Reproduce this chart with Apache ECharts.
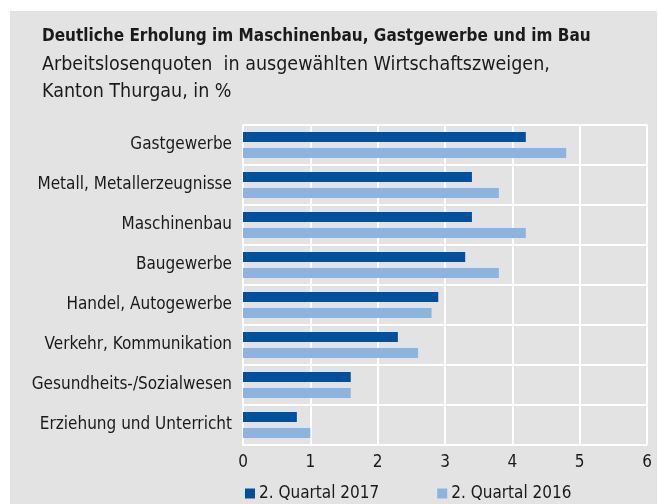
<!DOCTYPE html>
<html>
<head>
<meta charset="utf-8">
<script src="https://cdn.jsdelivr.net/npm/echarts@6/dist/echarts.min.js"></script>
<style>
  html, body { margin: 0; padding: 0; background: #fff; }
  #chart { width: 658px; height: 504px; }
</style>
</head>
<body>
<div id="chart"></div>
<script>
  // Branchen (von oben nach unten)
  const categories = [
    'Gastgewerbe',
    'Metall, Metallerzeugnisse',
    'Maschinenbau',
    'Baugewerbe',
    'Handel, Autogewerbe',
    'Verkehr, Kommunikation',
    'Gesundheits-/Sozialwesen',
    'Erziehung und Unterricht'
  ];
  const q2017 = [4.2, 3.4, 3.4, 3.3, 2.9, 2.3, 1.6, 0.8];
  const q2016 = [4.8, 3.8, 4.2, 3.8, 2.8, 2.6, 1.6, 1.0];
  const seriesNames = ['2. Quartal 2017', '2. Quartal 2016'];
  const xTicks = [0, 1, 2, 3, 4, 5, 6];

  const font = '"Liberation Sans Narrow", "DejaVu Sans Condensed", sans-serif';
  const textColor = '#1a1a1a';

  const chart = echarts.init(document.getElementById('chart'));
  chart.setOption({
    backgroundColor: '#fff',
    textStyle: { fontFamily: font },
    graphic: [
      {
        type: 'rect',
        z: -10,
        shape: { x: 10, y: 11, width: 647, height: 493 },
        style: { fill: '#e3e3e3' }
      },
      {
        type: 'text',
        left: 42, top: 28,
        style: {
          text: 'Deutliche Erholung im Maschinenbau, Gastgewerbe und im Bau',
          font: 'bold 17px ' + font,
          fill: textColor
        }
      },
      {
        type: 'text',
        left: 42, top: 51,
        style: {
          text: 'Arbeitslosenquoten  in ausgewählten Wirtschaftszweigen,\nKanton Thurgau, in %',
          font: '19.5px ' + font,
          lineHeight: 27,
          fill: textColor
        }
      }
    ],
    legend: {
      left: 240,
      top: 480,
      itemWidth: 10,
      itemHeight: 10,
      itemGap: 58,
      icon: 'rect',
      textStyle: { fontSize: 17, color: textColor, fontFamily: font, padding: [0, 0, 0, -1] },
      data: seriesNames
    },
    grid: { left: 243, right: 11, top: 125, bottom: 59, containLabel: false },
    xAxis: {
      type: 'value',
      min: xTicks[0],
      max: xTicks[xTicks.length - 1],
      interval: 1,
      axisLine: { show: false },
      axisTick: { show: false },
      axisLabel: { fontSize: 17, color: textColor, margin: 9, fontFamily: font },
      splitLine: { show: true, lineStyle: { color: '#fff', width: 2 } }
    },
    yAxis: {
      type: 'category',
      inverse: true,
      data: categories,
      axisLine: { show: true, lineStyle: { color: '#fff', width: 2 } },
      axisTick: { show: false },
      axisLabel: { fontSize: 17, color: textColor, margin: 11, fontFamily: font, padding: [0, 0, 10, 0] },
      splitLine: { show: true, lineStyle: { color: '#fff', width: 2 } }
    },
    series: [
      {
        name: seriesNames[0],
        type: 'bar',
        data: q2017,
        barWidth: 10,
        barGap: '60%',
        itemStyle: { color: '#0050a0' }
      },
      {
        name: seriesNames[1],
        type: 'bar',
        data: q2016,
        barWidth: 10,
        itemStyle: { color: '#8cb4e0' }
      }
    ]
  });
</script>
</body>
</html>
